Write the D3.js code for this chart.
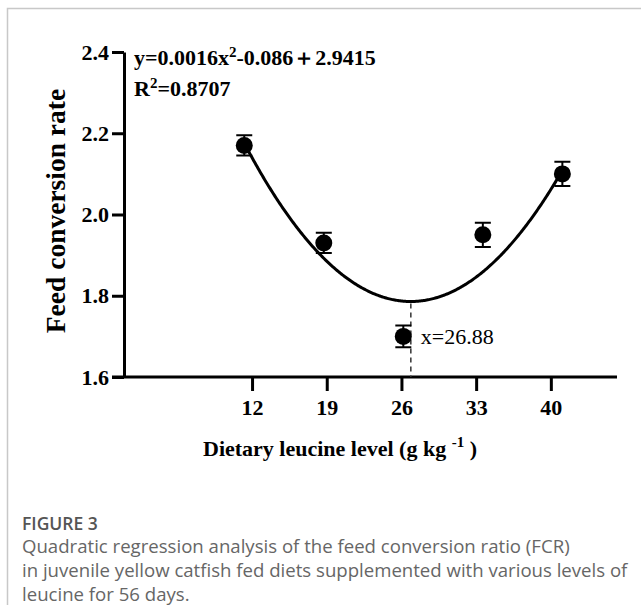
<!DOCTYPE html>
<html>
<head>
<meta charset="utf-8">
<script src="https://cdn.jsdelivr.net/npm/d3@7"></script>
<style>
  html, body { margin: 0; padding: 0; background: #fff; }
  svg { display: block; }
</style>
</head>
<body>
<svg id="chart"></svg>
<script>
// leucine levels (g/kg) and mean FCR with error
var LEVELS = [12, 19, 26, 33, 40];
var FCR = [2.17, 1.93, 1.70, 1.95, 2.10];
var FCR_ERR = [0.025, 0.025, 0.027, 0.03, 0.03];

var X_TICKS = [12, 19, 26, 33, 40];
var Y_TICKS = [1.6, 1.8, 2.0, 2.2, 2.4];

// quadratic fit y = a x^2 + b x + c
var FIT = {a: 0.0016, b: -0.086, c: 2.9415};
var FIT_FROM = 11.27, FIT_TO = 41.08;
var OPT_X = 26.88;

var EQ_TEXT = "y=0.0016x";
var EQ_TAIL = "-0.086\uFF0B2.9415";
var R2_TEXT = "=0.8707";

var CAPTION_TITLE = "FIGURE 3";
var CAPTION_LINES = ["Quadratic regression analysis of the feed conversion ratio (FCR)",
    "in juvenile yellow catfish fed diets supplemented with various levels of",
    "leucine for 56 days."];

var W = 641, H = 605;
var serif = "'Liberation Serif', 'Times New Roman', serif";

var svg = d3.select("#chart").attr("width", W).attr("height", H);

// panel border (top + left)
svg.append("path")
    .attr("d", "M7.5," + H + "V8.5H" + W)
    .attr("fill", "none").attr("stroke", "#c8c8c8").attr("stroke-width", 1.5);

var x = d3.scaleLinear().domain([0, 46.2]).range([124, 617]);
var y = d3.scaleLinear().domain([1.6, 2.4]).range([377, 52]);
// the points sit on a slightly stretched grid in the original figure
var xDot = d3.scaleLinear().domain([LEVELS[0], LEVELS[LEVELS.length - 1]])
    .range([x(FIT_FROM), x(FIT_TO)]);

function fit(v) { return FIT.a * v * v + FIT.b * v + FIT.c; }

// axes
var yAxis = svg.append("g").attr("transform", "translate(" + x(0) + ",0)")
    .call(d3.axisLeft(y).tickValues(Y_TICKS).tickSize(12).tickSizeOuter(0).tickPadding(3)
        .tickFormat(d3.format(".1f")));
var xAxis = svg.append("g").attr("transform", "translate(0," + y(1.6) + ")")
    .call(d3.axisBottom(x).tickValues(X_TICKS).tickSize(14).tickSizeOuter(0).tickPadding(8));

[xAxis, yAxis].forEach(function(g) {
    g.select(".domain").attr("stroke", "#000").attr("stroke-width", 3);
    g.selectAll(".tick line").attr("stroke", "#000").attr("stroke-width", 3);
    g.selectAll(".tick text").attr("fill", "#000")
        .style("font-family", serif).style("font-size", "22px").style("font-weight", "bold");
});
// extend x axis to meet the 1.6 tick
xAxis.select(".domain").attr("d", "M" + (x(0) - 12) + ",0H" + x(46.2));

// fitted curve
var curvePts = d3.range(FIT_FROM, FIT_TO + 0.01, 0.1).map(function(v) { return [v, fit(v)]; });
svg.append("path").datum(curvePts)
    .attr("fill", "none").attr("stroke", "#000").attr("stroke-width", 3)
    .attr("d", d3.line().x(function(d) { return x(d[0]); }).y(function(d) { return y(d[1]); }));

// optimum marker
svg.append("line")
    .attr("x1", x(OPT_X)).attr("x2", x(OPT_X))
    .attr("y1", y(fit(OPT_X)) + 2).attr("y2", y(1.6))
    .attr("stroke", "#333").attr("stroke-width", 1.5).attr("stroke-dasharray", "5,4");
svg.append("text")
    .attr("x", x(OPT_X) + 10).attr("y", y(FCR[2]) + 8)
    .style("font-family", serif).style("font-size", "22px")
    .text("x=" + OPT_X);

// points with error bars
var pts = LEVELS.map(function(l, i) { return {x: l, y: FCR[i], e: FCR_ERR[i]}; });
var pg = svg.append("g").selectAll("g").data(pts).join("g");
pg.append("path")
    .attr("fill", "none").attr("stroke", "#000").attr("stroke-width", 2)
    .attr("d", function(d) {
        var cx = xDot(d.x), y0 = y(d.y - d.e), y1 = y(d.y + d.e);
        return "M" + (cx - 8) + "," + y1 + "H" + (cx + 8) + "M" + cx + "," + y1 + "V" + y0 +
            "M" + (cx - 8) + "," + y0 + "H" + (cx + 8);
    });
pg.append("circle")
    .attr("cx", function(d) { return xDot(d.x); })
    .attr("cy", function(d) { return y(d.y); })
    .attr("r", 8.5).attr("fill", "#000");

// equation
var eq = svg.append("text").attr("x", 134).attr("y", 65)
    .style("font-family", serif).style("font-size", "22px").style("font-weight", "bold");
eq.append("tspan").text(EQ_TEXT);
eq.append("tspan").attr("dy", -8).style("font-size", "15px").text("2");
eq.append("tspan").attr("dy", 8).text(EQ_TAIL);
var r2 = svg.append("text").attr("x", 134).attr("y", 96)
    .style("font-family", serif).style("font-size", "22px").style("font-weight", "bold");
r2.append("tspan").text("R");
r2.append("tspan").attr("dy", -8).style("font-size", "15px").text("2");
r2.append("tspan").attr("dy", 8).text(R2_TEXT);

// axis titles
svg.append("text")
    .attr("transform", "translate(65,211) rotate(-90)")
    .attr("text-anchor", "middle")
    .style("font-family", serif).style("font-size", "27.5px").style("font-weight", "bold")
    .text("Feed conversion rate");
var xt = svg.append("text").attr("x", 340).attr("y", 456).attr("text-anchor", "middle")
    .style("font-family", serif).style("font-size", "22px").style("font-weight", "bold");
xt.append("tspan").text("Dietary leucine level (g kg ");
xt.append("tspan").attr("dy", -9).style("font-size", "15px").text("-1");
xt.append("tspan").attr("dy", 9).text(" )");

// caption
svg.append("text").attr("x", 22).attr("y", 530)
    .style("font-family", "'Open Sans', sans-serif").style("font-size", "17.5px")
    .style("font-weight", 600).attr("fill", "#555")
    .text(CAPTION_TITLE);
svg.append("g").selectAll("text").data(CAPTION_LINES).join("text")
    .attr("x", 22).attr("y", function(d, i) { return 553 + i * 24; })
    .style("font-family", "'Open Sans', sans-serif").style("font-size", "18.6px")
    .attr("fill", "#666")
    .text(function(d) { return d; });
</script>
</body>
</html>
